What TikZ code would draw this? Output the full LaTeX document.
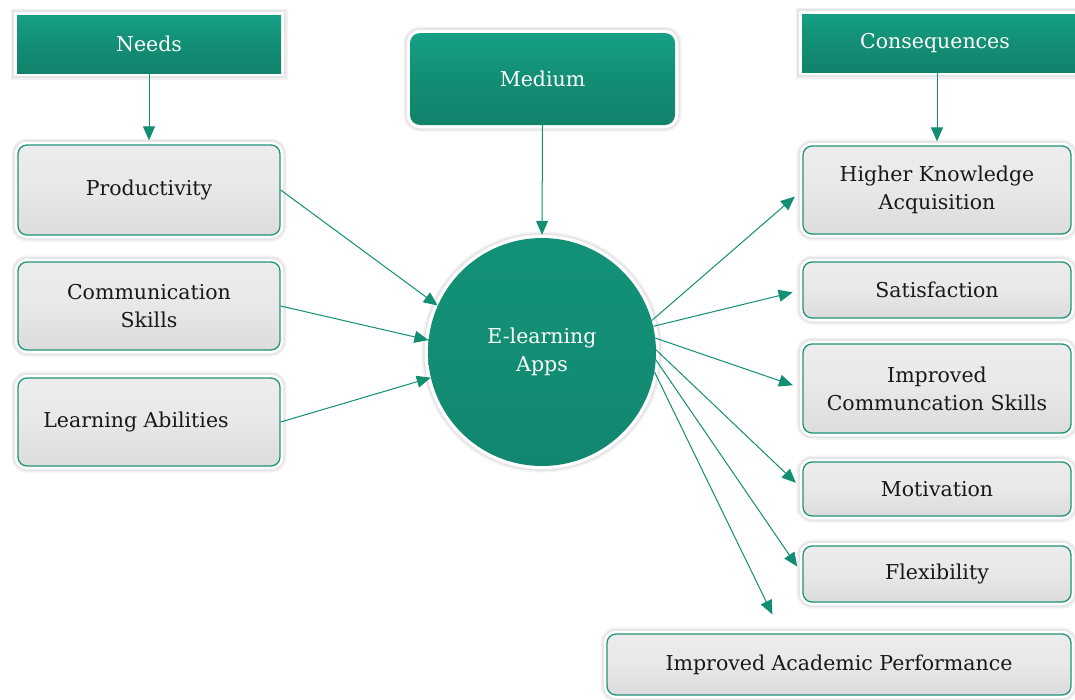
\documentclass[tikz,border=0pt]{standalone}
\usepackage{fontspec}
\setmainfont{DejaVu Serif}
\usetikzlibrary{arrows.meta,shadows,calc}
\definecolor{tealc}{HTML}{128E74}
\definecolor{tealtop}{HTML}{16A084}
\definecolor{tealline}{HTML}{1E9479}
\definecolor{boxgray}{HTML}{E8E8E8}
\tikzset{
  shad/.style={drop shadow={shadow xshift=1.5pt,shadow yshift=-2.5pt,opacity=0.15,fill=black}},
  whiteedge/.style={preaction={draw=black!5,line width=13pt},preaction={draw=black!10,line width=10pt},preaction={draw=white,line width=6.5pt}},
  txt/.style={inner sep=0pt,align=center,font=\fontsize{20.5}{28}\selectfont},
  graybox/.style={shad,whiteedge,txt,rectangle,rounded corners=9pt,draw=tealline,line width=1.3pt,
    top color=boxgray!80!white,bottom color=boxgray!88!gray,middle color=boxgray,text=black!90},
  headbox/.style={shad,whiteedge,txt,rectangle,draw=none,top color=tealtop,bottom color=tealc!92!black,middle color=tealc,
    text=white},
  medbox/.style={headbox,rounded corners=10pt},
  circbox/.style={shad,whiteedge,txt,circle,draw=none,top color=tealc!80!tealtop,bottom color=tealc!95!black,middle color=tealc,
    text=white},
  conn/.style={draw=tealc,line width=1pt,-{Triangle[length=14pt,width=12pt]}},
}
\begin{document}
\begin{tikzpicture}[x=1pt,y=-1pt]
\useasboundingbox[fill=white] (0,0) rectangle (1075,699);
% headers
\node[headbox,minimum width=264pt,minimum height=58pt] (needs) at (149,44) {Needs};
\node[medbox,minimum width=265pt,minimum height=92pt] (med) at (542.5,79) {Medium};
\node[headbox,minimum width=278pt,minimum height=58pt] (cons) at (941,43) {\hspace*{-6pt}Consequences\hspace*{6pt}};
% left boxes
\node[graybox,minimum width=262pt,minimum height=90pt] (prod) at (149,190) {Productivity};
\node[graybox,minimum width=262pt,minimum height=88pt] (comm) at (149,306) {Communication\\Skills};
\node[graybox,minimum width=262pt,minimum height=88pt] (learn) at (149,422) {\hspace*{-26pt}Learning Abilities};
% circle
\node[circbox,minimum size=228pt] (circ) at (542,352) {E-learning\\Apps};
% right boxes
\node[graybox,minimum width=268pt,minimum height=88pt] (hk) at (937,190) {Higher Knowledge\\Acquisition};
\node[graybox,minimum width=268pt,minimum height=56pt] (sat) at (937,290) {Satisfaction};
\node[graybox,minimum width=268pt,minimum height=89pt] (ic) at (937,388.5) {Improved\\Communcation Skills};
\node[graybox,minimum width=268pt,minimum height=54pt] (mot) at (937,489) {Motivation};
\node[graybox,minimum width=268pt,minimum height=56pt] (flex) at (937,574) {Flexibility};
\node[graybox,minimum width=464pt,minimum height=61pt] (acad) at (839,664.5) {Improved Academic Performance};
\coordinate (acadtip) at ($(acad.north west)+(166,-19)$);
% connectors
\draw[conn] (needs.south) -- ([yshift=4pt]prod.north);
\draw[conn] (cons.south -| hk.north) -- ([yshift=4pt]hk.north);
\draw[conn] (med.south) -- ([yshift=3pt]circ.north);
\draw[conn] (prod.east) -- (circ.156);
\draw[conn] (comm.east) -- (circ.174);
\draw[conn] (learn.east) -- (circ.193);
\draw[conn,shorten >=10pt] (circ.16) -- (hk.west);
\draw[conn,shorten >=10pt] (circ.13) -- (sat.west);
\draw[conn,shorten >=10pt] (circ.7) -- (ic.west);
\draw[conn,shorten >=9pt] (circ.1) -- (mot.west);
\draw[conn,shorten >=9pt] (circ.356) -- (flex.west);
\draw[conn] (circ.350) -- (acadtip);
\end{tikzpicture}
\end{document}
